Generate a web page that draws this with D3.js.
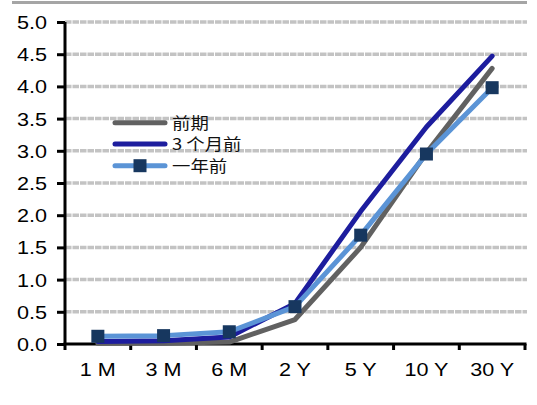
<!DOCTYPE html>
<html>
<head>
<meta charset="utf-8">
<script src="https://cdn.jsdelivr.net/npm/d3@7"></script>
<style>
  html, body { margin: 0; padding: 0; background: #fff; }
  svg { display: block; }
  .tick-label { font-family: "Liberation Sans", Arial, sans-serif; font-size: 18px; fill: #000; }
  .legend-label { font-family: "Noto Sans CJK SC", sans-serif; font-size: 16px; fill: #111; }
</style>
</head>
<body>
<svg id="chart" width="537" height="405"></svg>
<script>
// Yield curve: maturities and yields (%)
const maturities = ["1 M", "3 M", "6 M", "2 Y", "5 Y", "10 Y", "30 Y"];
const seriesNames = ["前期", "3 个月前", "一年前"];
const currentYields = [0.01, 0.01, 0.03, 0.38, 1.50, 2.97, 4.28];
const threeMonthsAgo = [0.04, 0.05, 0.11, 0.63, 2.06, 3.37, 4.47];
const oneYearAgo = [0.12, 0.13, 0.19, 0.58, 1.69, 2.95, 3.98];
const yTicks = [0, 0.5, 1, 1.5, 2, 2.5, 3, 3.5, 4, 4.5, 5];

const colors = ["#616161", "#1d1d9e", "#5b94d6"];
const markerColor = "#17375f";
const stretch = 1.2; // horizontal widening of the typeface

const svg = d3.select("#chart");
const plotLeft = 65, plotRight = 525, plotTop = 22, plotBottom = 344;

const x = d3.scaleBand().domain(maturities).range([plotLeft, plotRight]).padding(0);
const y = d3.scaleLinear().domain([0, 5]).range([plotBottom, plotTop]);
const cx = d => x(d) + x.bandwidth() / 2;

// top rule
svg.append("line")
  .attr("x1", 12).attr("x2", 527).attr("y1", 2.5).attr("y2", 2.5)
  .attr("stroke", "#a5a5a5").attr("stroke-width", 3);

// gridlines
svg.append("g").selectAll("line")
  .data(yTicks.filter(d => d > 0))
  .join("line")
  .attr("x1", plotLeft).attr("x2", 527)
  .attr("y1", d => y(d)).attr("y2", d => y(d))
  .attr("stroke", "#c3c3c3").attr("stroke-width", 3.5)
  .attr("stroke-dasharray", "6.5,1");

// y axis
const yAxis = svg.append("g")
  .attr("transform", `translate(${plotLeft},0)`)
  .call(d3.axisLeft(y).tickValues(yTicks).tickSize(8).tickFormat(d3.format(".1f")));
yAxis.select(".domain").attr("stroke", "#000").attr("stroke-width", 3)
  .attr("d", `M0,${plotTop}V${plotBottom}`);
yAxis.selectAll(".tick line").attr("stroke", "#000").attr("stroke-width", 3);
yAxis.attr("font-family", null).attr("font-size", null);
yAxis.selectAll(".tick text")
  .attr("class", "tick-label")
  .attr("x", -18 / stretch).attr("dy", "0.36em")
  .attr("transform", `scale(${stretch},1)`)
  .attr("fill", null);

// x axis line with tick marks at category boundaries
const xAxis = svg.append("g");
xAxis.append("line")
  .attr("x1", plotLeft - 1.5).attr("x2", plotRight + 1.5).attr("y1", plotBottom).attr("y2", plotBottom)
  .attr("stroke", "#000").attr("stroke-width", 3);
xAxis.selectAll("line.bound")
  .data(maturities.map(m => x(m) + x.bandwidth()).concat([plotLeft]))
  .join("line").attr("class", "bound")
  .attr("x1", d => d).attr("x2", d => d)
  .attr("y1", plotBottom).attr("y2", plotBottom + 6)
  .attr("stroke", "#000").attr("stroke-width", 3);
xAxis.selectAll("text")
  .data(maturities)
  .join("text")
  .attr("class", "tick-label")
  .attr("text-anchor", "middle")
  .attr("transform", d => `translate(${cx(d)},376) scale(${stretch},1)`)
  .text(d => d);

// series lines
const line = d3.line().x((d, i) => cx(maturities[i])).y(d => y(d));
const allSeries = [currentYields, threeMonthsAgo, oneYearAgo];
svg.append("g").selectAll("path")
  .data(allSeries)
  .join("path")
  .attr("d", d => line(d))
  .attr("fill", "none")
  .attr("stroke", (d, i) => colors[i])
  .attr("stroke-width", 5)
  .attr("stroke-linejoin", "round")
  .attr("stroke-linecap", "round");

// markers on the one-year-ago series
const ms = 13;
svg.append("g").selectAll("rect")
  .data(oneYearAgo)
  .join("rect")
  .attr("x", (d, i) => cx(maturities[i]) - ms / 2)
  .attr("y", d => y(d) - ms / 2)
  .attr("width", ms).attr("height", ms)
  .attr("fill", markerColor);

// legend
const legendY = [122.7, 144, 165.7];
const lg = svg.append("g");
seriesNames.forEach((name, i) => {
  lg.append("line")
    .attr("x1", 115).attr("x2", 165)
    .attr("y1", legendY[i]).attr("y2", legendY[i])
    .attr("stroke", colors[i]).attr("stroke-width", 5)
    .attr("stroke-linecap", "round");
  if (i === 2) {
    lg.append("rect")
      .attr("x", 140 - ms / 2).attr("y", legendY[i] - ms / 2)
      .attr("width", ms).attr("height", ms).attr("fill", markerColor);
  }
  lg.append("text")
    .attr("class", "legend-label")
    .attr("transform", `translate(172,${legendY[i] + 6}) scale(1.15,1)`)
    .text(name);
});
</script>
</body>
</html>
